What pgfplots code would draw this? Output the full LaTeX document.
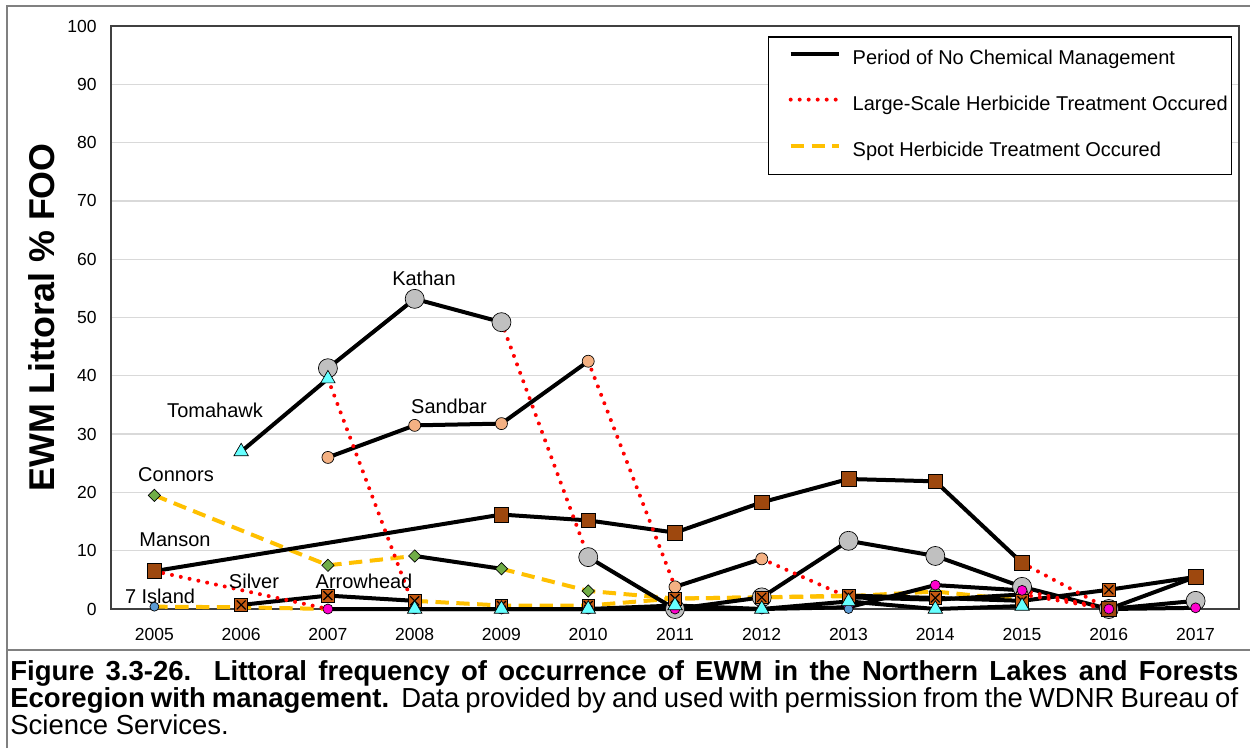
\documentclass[border=0pt]{standalone}
\usepackage{fontspec}
\setmainfont{Liberation Sans}
\usepackage{pgfplots}
\pgfplotsset{compat=1.18}

\definecolor{kathanC}{HTML}{C0C0C0}
\definecolor{sandbarC}{HTML}{F4B183}
\definecolor{tomaC}{HTML}{66FFFF}
\definecolor{connorsC}{HTML}{70AD47}
\definecolor{mansonC}{HTML}{9E480E}
\definecolor{silverC}{HTML}{C55A11}
\definecolor{arrowC}{HTML}{FF00CC}
\definecolor{islandC}{HTML}{5B9BD5}
\definecolor{spotC}{HTML}{FFC000}
\definecolor{gridC}{HTML}{D9D9D9}
\definecolor{frameC}{HTML}{808080}

\pgfplotsset{
  nochem/.style={black, line width=2.4pt, line join=round, mark=none},
  large/.style={red, line width=2.4pt, line cap=round, dash pattern=on 0pt off 5.4pt, mark=none},
  spot/.style={spotC, line width=2.4pt, dash pattern=on 8pt off 4.5pt, mark=none},
  mk/.style={only marks, mark options={draw=black, line width=0.5pt, solid}},
}

\begin{document}
\begin{tikzpicture}
\useasboundingbox (0,0) rectangle (750pt,-450.6pt);
% outer frame
\draw[frameC, line width=1.2pt] (4.2pt,-448.8pt) -- (4.2pt,-3.6pt) -- (750pt,-3.6pt);
\draw[frameC, line width=1.2pt] (4.2pt,-390pt) -- (750pt,-390pt);

\begin{axis}[
    at={(66.6pt,-365.4pt)}, anchor=south west,
    scale only axis, width=676.8pt, height=349.8pt,
    xmin=2004.5, xmax=2017.5, ymin=0, ymax=100,
    xtick={2005,...,2017}, ytick={0,10,...,100},
    major tick length=0pt,
    ymajorgrids, grid style={gridC, line width=0.8pt},
    axis line style={black!75, line width=0.8pt},
    /pgf/number format/1000 sep={},
    /pgf/number format/assume math mode=true,
    tick label style={font=\fontsize{10.5}{12}\selectfont, inner sep=0pt},
    xticklabel style={anchor=north, yshift=-11.2pt},
    yticklabel style={anchor=east, xshift=-8.4pt},
    clip=false,
    legend cell align=left,
    legend style={at={(0.5824,0.9828)}, anchor=north west, draw=black, line width=0.9pt,
      fill=white, inner xsep=2.4pt, inner ysep=8pt, row sep=16.2pt,
      font=\fontsize{12}{14.4}\selectfont,
      nodes={inner sep=0pt, text height=8.8pt, text depth=2.6pt},
      /tikz/every odd column/.append style={column sep=7.2pt}},
    legend image code/.code={\path[draw=none] (0pt,0pt) -- (39.6pt,0pt); \draw[#1] (10.8pt,3.6pt) -- (39.6pt,3.6pt);},
  ]
  \addlegendimage{nochem}
  \addlegendentry{Period of No Chemical Management}
  \addlegendimage{large}
  \addlegendentry{Large-Scale Herbicide Treatment Occured}
  \addlegendimage{spot}
  \addlegendentry{Spot Herbicide Treatment Occured}

  % spot herbicide treatment segments
  \addplot[spot, forget plot] coordinates {(2005,0.4) (2006,0.3) (2007,0)};
  \addplot[spot, forget plot] coordinates {(2005,19.5) (2007,7.5) (2008,9.1)};
  \addplot[spot, forget plot] coordinates {(2009,6.9) (2010,3.1) (2011,1.8) (2012,2.0) (2013,2.2) (2014,3.0) (2015,1.5)};
  \addplot[spot, forget plot] coordinates {(2008,1.4) (2009,0.6) (2010,0.6) (2011,1.8) (2012,2.0) (2013,2.3)};

  % no chemical management segments
  \addplot[nochem, forget plot] coordinates {(2006,27.0) (2007,39.5)};
  \addplot[nochem, forget plot] coordinates {(2008,0) (2009,0) (2010,0) (2011,0.6) (2012,0) (2013,1.3) (2014,0) (2015,0.5)};
  \addplot[nochem, forget plot] coordinates {(2007,41.3) (2008,53.2) (2009,49.2)};
  \addplot[nochem, forget plot] coordinates {(2010,8.9) (2011,0) (2012,2.0) (2013,11.7) (2014,9.1) (2015,3.8) (2016,0) (2017,1.4)};
  \addplot[nochem, forget plot] coordinates {(2007,26.0) (2008,31.5) (2009,31.8) (2010,42.5)};
  \addplot[nochem, forget plot] coordinates {(2011,3.8) (2012,8.6)};
  \addplot[nochem, forget plot] coordinates {(2013,2.0) (2014,1.6) (2015,2.5)};
  \addplot[nochem, forget plot] coordinates {(2008,9.1) (2009,6.9)};
  \addplot[nochem, forget plot] coordinates {(2005,6.5) (2009,16.2) (2010,15.2) (2011,13.1) (2012,18.3) (2013,22.3) (2014,21.9) (2015,7.9)};
  \addplot[nochem, forget plot] coordinates {(2016,0) (2017,5.5)};
  \addplot[nochem, forget plot] coordinates {(2006,0.7) (2007,2.3) (2008,1.4)};
  \addplot[nochem, forget plot] coordinates {(2013,2.3) (2014,1.9) (2015,1.4) (2016,3.3) (2017,5.5)};
  \addplot[nochem, forget plot] coordinates {(2007,0) (2008,0) (2009,0) (2010,0) (2011,0) (2012,0) (2013,0.3) (2014,4.1) (2015,3.2)};
  \addplot[nochem, forget plot] coordinates {(2016,0) (2017,0.2)};

  % large-scale herbicide treatment segments
  \addplot[large, forget plot] coordinates {(2005,6.5) (2007,0)};
  \addplot[large, forget plot] coordinates {(2007,39.5) (2008,0)};
  \addplot[large, forget plot] coordinates {(2009,49.2) (2010,8.9)};
  \addplot[large, forget plot] coordinates {(2010,42.5) (2011,3.8)};
  \addplot[large, forget plot] coordinates {(2012,8.6) (2013,2.0)};
  \addplot[large, forget plot] coordinates {(2015,7.9) (2016,0)};
  \addplot[large, forget plot] coordinates {(2015,3.2) (2016,0)};
  \addplot[large, forget plot] coordinates {(2015,2.5) (2016,0)};

  % markers, one set per lake
  % Kathan
  \addplot[mk, forget plot, mark=*, mark size=5.7pt, mark options={fill=kathanC}] coordinates {
    (2007,41.3) (2008,53.2) (2009,49.2) (2010,8.9) (2011,0) (2012,2.0) (2013,11.7)
    (2014,9.1) (2015,3.8) (2016,0) (2017,1.4)};
  % Sandbar
  \addplot[mk, forget plot, mark=*, mark size=3.6pt, mark options={fill=sandbarC}] coordinates {
    (2007,26.0) (2008,31.5) (2009,31.8) (2010,42.5) (2011,3.8) (2012,8.6) (2013,2.0)
    (2014,1.6) (2015,2.5) (2016,0)};
  % Connors
  \addplot[mk, forget plot, mark=square*, mark size=2.6pt, mark options={fill=connorsC, rotate=45}] coordinates {
    (2005,19.5) (2007,7.5) (2008,9.1) (2009,6.9) (2010,3.1) (2011,1.8) (2012,2.0)
    (2013,2.2) (2014,3.0) (2015,1.8)};
  % Silver
  \addplot[mk, forget plot, mark=square*, mark size=3.8pt, mark options={fill=silverC}] coordinates {
    (2006,0.7) (2007,2.3) (2008,1.4) (2009,0.6) (2010,0.6) (2011,1.8) (2012,2.0)
    (2013,2.3) (2014,1.9) (2015,1.4) (2016,3.3) (2017,5.5)};
  \addplot[only marks, forget plot, mark=x, mark size=3.8pt, mark options={draw=black, line width=0.7pt}] coordinates {
    (2006,0.7) (2007,2.3) (2008,1.4) (2009,0.6) (2010,0.6) (2011,1.8) (2012,2.0)
    (2013,2.3) (2014,1.9) (2015,1.4) (2016,3.3) (2017,5.5)};
  % Manson
  \addplot[mk, forget plot, mark=square*, mark size=4.4pt, mark options={fill=mansonC}] coordinates {
    (2005,6.5) (2009,16.2) (2010,15.2) (2011,13.1) (2012,18.3) (2013,22.3) (2014,21.9)
    (2015,7.9) (2016,0) (2017,5.5)};
  % Arrowhead
  \addplot[mk, forget plot, mark=*, mark size=3pt, mark options={fill=arrowC}] coordinates {
    (2007,0) (2008,0) (2009,0) (2010,0) (2011,0) (2012,0) (2013,0.3) (2014,4.1)
    (2015,3.2) (2016,0) (2017,0.2)};
  % 7 Island
  \addplot[mk, forget plot, mark=*, mark size=2.7pt, mark options={fill=islandC}] coordinates {
    (2005,0.4) (2013,0)};
  % Tomahawk
  \addplot[mk, forget plot, mark=triangle*, mark size=5pt, mark options={fill=tomaC}] coordinates {
    (2006,27.0) (2007,39.5) (2008,0) (2009,0) (2010,0) (2011,0.6) (2012,0) (2013,1.3)
    (2014,0) (2015,0.5)};

  % lake names
  \begin{scope}[every node/.style={font=\fontsize{12}{14}\selectfont, inner sep=0pt}]
    \node at (axis cs:2008.107,56.8) {Kathan};
    \node at (axis cs:2005.699,34.0) {Tomahawk};
    \node at (axis cs:2008.395,34.8) {Sandbar};
    \node at (axis cs:2005.249,23.0) {Connors};
    \node at (axis cs:2005.238,11.8) {Manson};
    \node at (axis cs:2006.148,4.8) {Silver};
    \node at (axis cs:2007.416,4.8) {Arrowhead};
    \node at (axis cs:2005.065,2.2) {7 Island};
  \end{scope}
\end{axis}

\node[rotate=90, font=\bfseries\fontsize{21.5}{26}\selectfont] at (25.2pt,-190.5pt) {EWM Littoral \% FOO};

\node[anchor=north west, inner sep=0pt, text width=736.8pt, align=justify,
      font=\fontsize{16.5}{16.2}\selectfont] at (6pt,-396pt)
  {\textbf{Figure 3.3-26.\ \ Littoral frequency of occurrence of EWM in the Northern Lakes and Forests}\linebreak
   \textbf{Ecoregion with management.}\ \ Data provided by and used with permission from the WDNR Bureau of\linebreak
   Science Services.};
\end{tikzpicture}
\end{document}
